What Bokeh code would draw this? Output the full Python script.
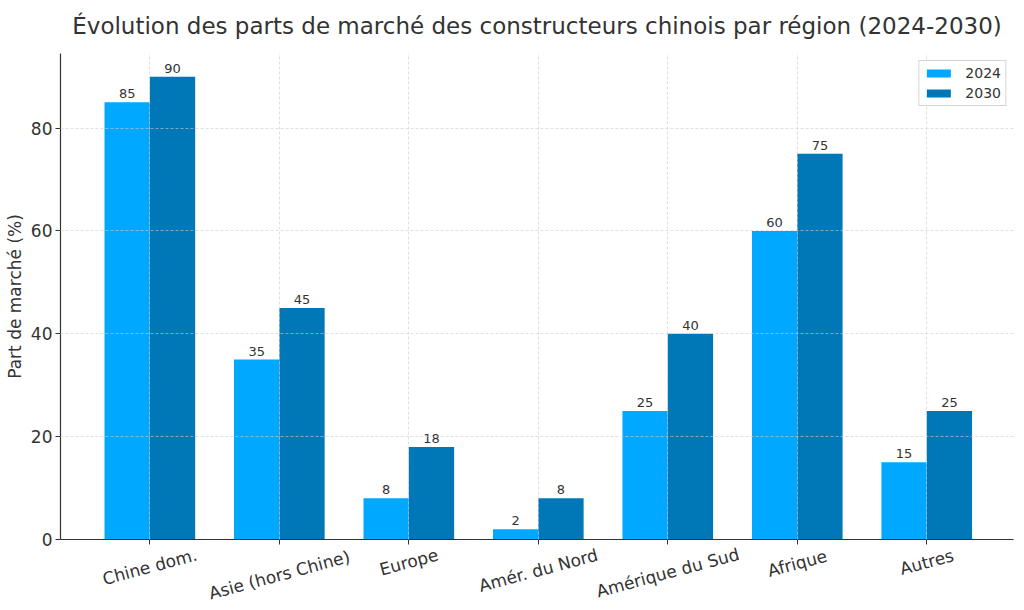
import math
from bokeh.plotting import figure
from bokeh.layouts import column
from bokeh.models import ColumnDataSource, Range1d, FixedTicker, Legend, LegendItem, LabelSet
from bokeh.core.properties import value
from bokeh.embed import file_html
from bokeh.resources import INLINE

regions = ["Chine dom.", "Asie (hors Chine)", "Europe", "Amér. du Nord",
           "Amérique du Sud", "Afrique", "Autres"]
share_2024 = [85, 35, 8, 2, 25, 60, 15]
share_2030 = [90, 45, 18, 8, 40, 75, 25]

FONT = "DejaVu Sans"
TXT = "#333333"
C24 = "#00A8FF"
C30 = "#0077B6"

idx = list(range(len(regions)))
bw = 0.35
src24 = ColumnDataSource(dict(x=[i - bw / 2 for i in idx], top=share_2024,
                              lab=[str(v) for v in share_2024]))
src30 = ColumnDataSource(dict(x=[i + bw / 2 for i in idx], top=share_2030,
                              lab=[str(v) for v in share_2030]))

xr = Range1d(-0.69, 6.67)

SHIFT = 4  # main chart pulled up a little to leave room for the title
p = figure(width=1016, height=549 + SHIFT, output_backend="svg", toolbar_location=None,
           x_range=xr, y_range=Range1d(0, 94.5),
           min_border_left=60, min_border_right=3, min_border_top=53 + SHIFT,
           min_border_bottom=10)
p.styles = {"margin-top": f"-{SHIFT}px"}

p.title.text = "Évolution des parts de marché des constructeurs chinois par région (2024-2030)"
p.title.align = "center"
p.title.vertical_align = "top"
p.title.text_font = FONT
p.title.text_font_size = "23px"
p.title.text_font_style = "normal"
p.title.text_color = TXT
p.title.standoff = 26

r24 = p.vbar(x="x", top="top", width=bw, source=src24, color=C24, line_color=None)
r30 = p.vbar(x="x", top="top", width=bw, source=src30, color=C30, line_color=None)

for s in (src24, src30):
    p.add_layout(LabelSet(x="x", y="top", text="lab", source=s, text_align="center",
                          text_baseline="bottom", y_offset=4, text_font=value(FONT),
                          text_font_size=value("13px"), text_color=value(TXT)))

p.outline_line_color = None
p.background_fill_color = "white"

p.xaxis.ticker = FixedTicker(ticks=idx)
p.xaxis.major_label_text_font_size = "0px"
p.xaxis.major_label_text_color = None
p.xaxis.major_label_standoff = 0
p.yaxis.ticker = FixedTicker(ticks=[0, 20, 40, 60, 80])

for ax in (p.xaxis, p.yaxis):
    ax.axis_line_color = "#333333"
    ax.axis_line_width = 1.2
    ax.major_tick_line_color = "#333333"
    ax.major_tick_out = 5
    ax.major_tick_in = 0
    ax.minor_tick_line_color = None

p.yaxis.major_label_text_font = FONT
p.yaxis.major_label_text_font_size = "17px"
p.yaxis.major_label_text_color = TXT
p.yaxis.major_label_standoff = 3
p.yaxis.axis_label = "Part de marché (%)"
p.yaxis.axis_label_text_font = FONT
p.yaxis.axis_label_text_font_size = "17px"
p.yaxis.axis_label_text_font_style = "normal"
p.yaxis.axis_label_text_color = TXT
p.yaxis.axis_label_standoff = 3

for g in (p.xgrid, p.ygrid):
    g.grid_line_color = "#cccccc"
    g.grid_line_alpha = 0.6
    g.grid_line_dash = "3 2"
    g.level = "overlay"

legend = Legend(items=[LegendItem(label="2024", renderers=[r24]),
                       LegendItem(label="2030", renderers=[r30])],
                location="top_right", label_text_font=FONT, label_text_font_size="14px",
                label_text_color=TXT, border_line_color="#d5d5d5", border_line_alpha=1,
                glyph_width=30, glyph_height=10, label_standoff=12, spacing=4,
                padding=4, margin=7)
p.add_layout(legend)

# --- transparent strip below the chart holding the rotated category labels ---
OVERLAP = 6
LAB_H = 610 - 549 + OVERLAP
ang = math.radians(15)
fs = 17
# centre of each rotated label's bounding box, whose top sits just under the axis ticks
centres = [-(2 + (len(r) * 0.53 * fs * math.sin(ang) + 1.17 * fs * math.cos(ang)) / 2)
           for r in regions]
srccat = ColumnDataSource(dict(x=idx, y=centres, lab=regions))

p2 = figure(width=1016, height=LAB_H, output_backend="svg", toolbar_location=None,
            x_range=xr, y_range=Range1d(-LAB_H, 0),
            x_axis_location=None, y_axis_location=None,
            min_border_left=60, min_border_right=3, min_border_top=0, min_border_bottom=0)
p2.outline_line_color = None
p2.background_fill_color = None
p2.border_fill_color = None
p2.xgrid.visible = False
p2.ygrid.visible = False
p2.styles = {"margin-top": f"-{OVERLAP}px"}
p2.text(x="x", y="y", text="lab", source=srccat, angle=ang, text_align="center",
        text_baseline="middle", text_font=value(FONT), text_font_size=value("17px"),
        text_color=TXT)

layout = column(p, p2, spacing=0)
open("out.html", "w").write(file_html(layout, INLINE))
